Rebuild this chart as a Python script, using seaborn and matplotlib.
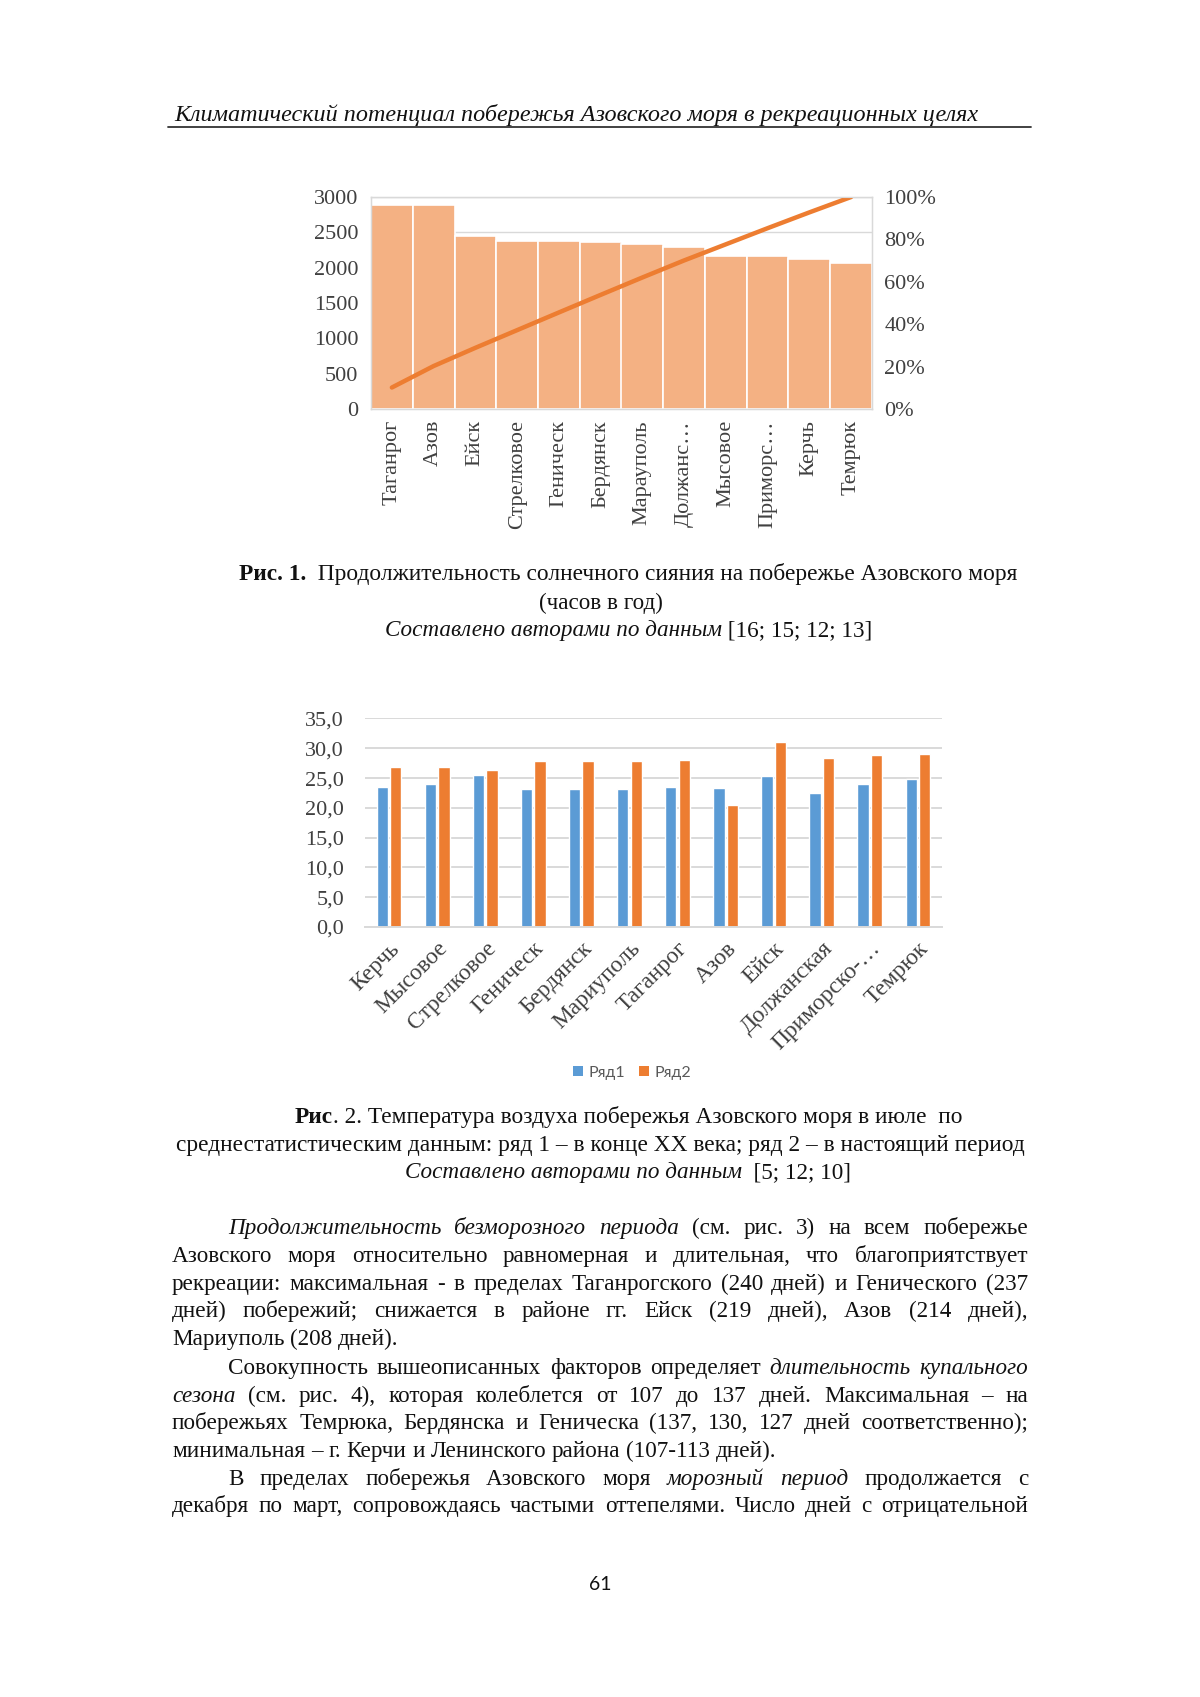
import numpy as np
import pandas as pd
import matplotlib
matplotlib.use("Agg")
import matplotlib.pyplot as plt
import seaborn as sns
from matplotlib.ticker import FuncFormatter, PercentFormatter
from matplotlib.patches import Patch
from matplotlib.lines import Line2D

# ---------------- data ----------------
sun_cities = ["Таганрог", "Азов", "Ейск", "Стрелковое", "Геническ", "Бердянск",
              "Марауполь", "Должанс…", "Мысовое", "Приморс…", "Керчь", "Темрюк"]
sun_hours = [2890, 2890, 2450, 2380, 2380, 2365, 2340, 2295, 2170, 2170, 2125, 2070]
sun_ticks = [0, 500, 1000, 1500, 2000, 2500, 3000]
pct_ticks = [0, 0.2, 0.4, 0.6, 0.8, 1.0]

temp_cities = ["Керчь", "Мысовое", "Стрелковое", "Геническ", "Бердянск", "Мариуполь",
               "Таганрог", "Азов", "Ейск", "Должанская", "Приморско-…", "Темрюк"]
temp_row1 = [23.5, 24.0, 25.5, 23.2, 23.2, 23.2, 23.5, 23.3, 25.4, 22.5, 24.0, 24.9]
temp_row2 = [26.9, 26.9, 26.4, 27.8, 27.8, 27.9, 28.1, 20.4, 31.0, 28.4, 28.9, 29.1]
series_names = ["Ряд1", "Ряд2"]
temp_ticks = [0, 5, 10, 15, 20, 25, 30, 35]

# ---------------- style ----------------
W, H, DPI = 1200, 1697, 100
BAR1 = "#F4B183"
ORANGE = "#ED7D31"
BLUE = "#5B9BD5"
GRID = "#D9D9D9"
TICK = "#404040"
TXT = "#111111"

sns.set_style("white")
plt.rcParams["font.family"] = ["Liberation Serif", "DejaVu Serif"]

fig = plt.figure(figsize=(W / DPI, H / DPI), dpi=DPI)
fig.patch.set_facecolor("white")
renderer = fig.canvas.get_renderer()


def fx(x):
    return x / W


def fy(y):
    return 1 - y / H


def ax_px(l, t, r, b):
    return fig.add_axes([l / W, 1 - b / H, (r - l) / W, (b - t) / H])


def measure(s, size, **kw):
    t = fig.text(0, 0, s, fontsize=size, **kw)
    w = t.get_window_extent(renderer).width
    t.remove()
    return w


def seg_width(segs, size):
    return sum(measure(s, size, **kw) for s, kw in segs)


def draw_segs(segs, x, y, size, color=TXT):
    for s, kw in segs:
        t = fig.text(fx(x), fy(y), s, fontsize=size, ha="left", va="baseline", color=color, **kw)
        x += t.get_window_extent(renderer).width


def fit_line(segs, x0, x1, y, base=16.0, lo=13.0, hi=20.0):
    w = seg_width(segs, base)
    size = min(hi, max(lo, base * (x1 - x0) / w))
    tw = seg_width(segs, size)
    draw_segs(segs, (x0 + x1) / 2 - tw / 2, y, size)
    return size


N = {}
I = {"style": "italic"}
B = {"weight": "bold"}

# ---------------- header ----------------
fit_line([("Климатический потенциал побережья Азовского моря в рекреационных целях", I)],
         173, 979, 121, base=17)
fig.add_artist(Line2D([fx(168), fx(1031)], [fy(127), fy(127)], color="#333333", lw=1.3))

# ---------------- chart 1 ----------------
ax1 = ax_px(371, 197, 872, 409)
sns.barplot(x=sun_cities, y=sun_hours, color=BAR1, width=1.0, saturation=1,
            edgecolor="white", linewidth=1.2, ax=ax1)
ax1.set_ylim(0, 3000)
ax1.set_yticks(sun_ticks)
ax1.yaxis.grid(True, color=GRID, lw=1)
ax1.set_axisbelow(True)
ax1.tick_params(axis="both", length=0, labelsize=16, colors=TICK)
ax1.tick_params(axis="y", pad=9)
ax1.tick_params(axis="x", pad=8, labelrotation=90)
for sp in ax1.spines.values():
    sp.set_color(GRID)
    sp.set_linewidth(1)
ax1.set_xlabel("")
ax1.set_ylabel("")

ax1b = ax1.twinx()
cum = np.cumsum(sun_hours) / np.sum(sun_hours)
sns.lineplot(x=np.arange(len(sun_hours)), y=cum, color=ORANGE, lw=3.2, ax=ax1b)
ax1b.set_ylim(0, 1)
ax1b.set_yticks(pct_ticks)
ax1b.yaxis.set_major_formatter(PercentFormatter(1.0, decimals=0))
ax1b.tick_params(axis="y", length=0, labelsize=16, colors=TICK, pad=9)
for sp in ax1b.spines.values():
    sp.set_color(GRID)
ax1b.set_ylabel("")
ax1.set_xlim(-0.5, len(sun_hours) - 0.5)

# ---------------- caption 1 ----------------
fit_line([("Рис. 1.", B), ("  Продолжительность солнечного сияния на побережье Азовского моря", N)],
         240, 1017, 580)
fit_line([("(часов в год)", N)], 538, 663, 609)
fit_line([("Составлено авторами по данным", I), (" [16; 15; 12; 13]", N)], 385, 872, 636)

# ---------------- chart 2 ----------------
df = pd.DataFrame({
    "city": temp_cities * 2,
    "val": temp_row1 + temp_row2,
    "series": [series_names[0]] * len(temp_cities) + [series_names[1]] * len(temp_cities),
})
ax2 = ax_px(365, 718.5, 942, 927)
sns.barplot(data=df, x="city", y="val", hue="series", palette=[BLUE, ORANGE],
            width=0.56, gap=0.16, saturation=1, errorbar=None, ax=ax2, legend=False)
ax2.set_ylim(0, 35)
ax2.set_yticks(temp_ticks)
ax2.yaxis.set_major_formatter(FuncFormatter(lambda v, _: f"{v:.1f}".replace(".", ",")))
ax2.yaxis.grid(True, color=GRID, lw=1.4)
ax2.set_axisbelow(True)
for k in ["top", "right", "left"]:
    ax2.spines[k].set_visible(False)
ax2.spines["bottom"].set_color(GRID)
ax2.spines["bottom"].set_linewidth(1.4)
ax2.tick_params(axis="both", length=0, labelsize=16, colors=TICK)
ax2.tick_params(axis="y", pad=15)
ax2.tick_params(axis="x", pad=8, labelsize=16.8)
plt.setp(ax2.get_xticklabels(), rotation=45, ha="right", rotation_mode="anchor")
ax2.set_xlabel("")
ax2.set_ylabel("")
ax2.set_xlim(-0.5, len(temp_cities) - 0.5)

handles = [Patch(facecolor=BLUE, edgecolor="none"), Patch(facecolor=ORANGE, edgecolor="none")]
fig.legend(handles, series_names, loc="center", bbox_to_anchor=(fx(632), fy(1073)), ncol=2,
           frameon=False, handlelength=0.6, handleheight=0.6, handletextpad=0.35,
           columnspacing=0.9, prop={"family": "Lato", "size": 11.5}, labelcolor="#595959")

# ---------------- caption 2 ----------------
fit_line([("Рис", B), (". 2. Температура воздуха побережья Азовского моря в июле  по", N)],
         294, 963, 1123)
fit_line([("среднестатистическим данным: ряд 1 – в конце XX века; ряд 2 – в настоящий период", N)],
         176, 1024, 1151)
fit_line([("Составлено авторами по данным", I), ("  [5; 12; 10]", N)], 404, 852, 1178)

# ---------------- body text ----------------
body = [
    ("_Продолжительность _безморозного _периода (см. рис. 3) на всем побережье", True, False),
    ("Азовского моря относительно равномерная и длительная, что благоприятствует", False, False),
    ("рекреации: максимальная - в пределах Таганрогского (240 дней)  и  Генического (237", False, False),
    ("дней)  побережий; снижается  в районе гг.  Ейск (219 дней), Азов (214 дней),", False, False),
    ("Мариуполь (208 дней).", False, True),
    ("Совокупность вышеописанных факторов определяет _длительность _купального", True, False),
    ("_сезона (см. рис. 4), которая колеблется от 107 до 137 дней. Максимальная – на", False, False),
    ("побережьях Темрюка, Бердянска и Геническа (137, 130, 127 дней соответственно);", False, False),
    ("минимальная – г. Керчи  и Ленинского района  (107-113 дней).", False, True),
    ("В пределах побережья Азовского моря _морозный _период продолжается с", True, False),
    ("декабря по март, сопровождаясь частыми оттепелями. Число дней с отрицательной", False, False),
]
baselines = [1234, 1262, 1290, 1317, 1345, 1374, 1402, 1429, 1457, 1485, 1512]
X0, X1, INDENT = 172, 1028, 228

body_size = 16.0 * 227 / measure("Мариуполь (208 дней).", 16.0)
body_size = min(max(body_size, 14.0), 17.0)
space_w = measure("а а", body_size) - measure("аа", body_size)

for (line, indent, last), yb in zip(body, baselines):
    words = line.split()
    toks = []
    for w in words:
        if w.startswith("_"):
            toks.append((w[1:], I))
        else:
            toks.append((w, N))
    size = body_size
    x_start = INDENT if indent else X0
    while True:
        widths = [measure(s, size, **kw) for s, kw in toks]
        avail = X1 - x_start
        if sum(widths) + 0.6 * space_w * (len(toks) - 1) <= avail or size < 12:
            break
        size -= 0.2
    if last:
        gap = space_w
    else:
        gap = (avail - sum(widths)) / max(len(toks) - 1, 1)
    x = x_start
    for (s, kw), w in zip(toks, widths):
        fig.text(fx(x), fy(yb), s, fontsize=size, ha="left", va="baseline", color=TXT, **kw)
        x += w + gap

# ---------------- page number ----------------
fig.text(fx(600), fy(1585), "61", fontsize=14, ha="center", va="center", color=TXT, family="Lato")

fig.savefig("out.png", dpi=DPI, facecolor="white")
